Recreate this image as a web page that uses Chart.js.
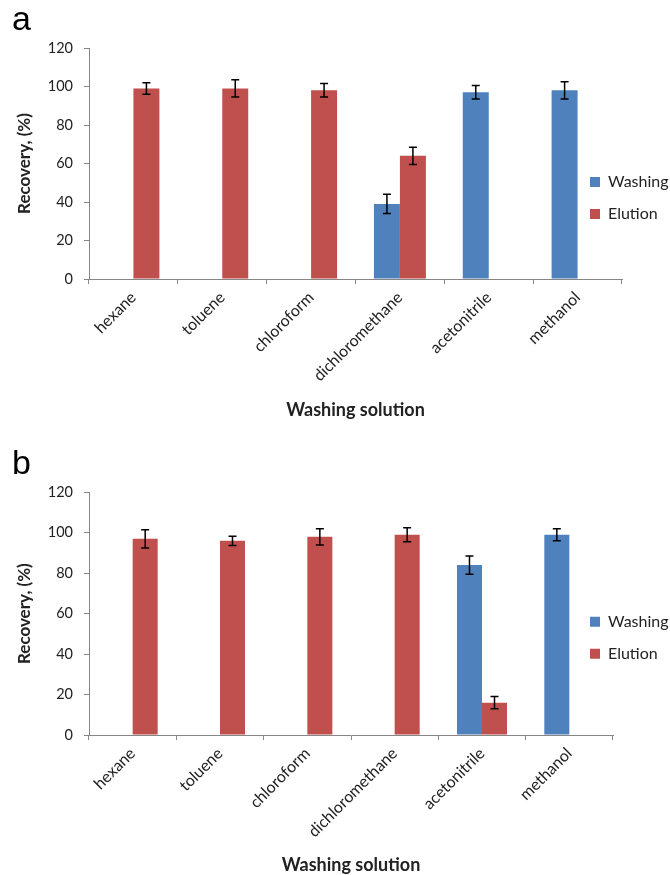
<!DOCTYPE html>
<html><head><meta charset="utf-8">
<script src="https://cdn.jsdelivr.net/npm/chart.js@4.4.1/dist/chart.umd.min.js"></script>
<style>
html,body{margin:0;padding:0;background:#fff;}
body{width:670px;height:875px;position:relative;overflow:hidden;}
.wrap{position:absolute;left:0;width:670px;}
#wa{top:0;height:435px;}
#wb{top:444px;height:431px;}
canvas{display:block;}
</style></head><body>
<div class="wrap" id="wa"><canvas id="ca" width="670" height="435"></canvas></div>
<div class="wrap" id="wb"><canvas id="cb" width="670" height="431"></canvas></div>
<script>
const categories = ['hexane', 'toluene', 'chloroform', 'dichloromethane', 'acetonitrile', 'methanol'];
const seriesNames = ['Washing', 'Elution'];
const yTicks = [0, 20, 40, 60, 80, 100, 120];

// panel a
const aWashing    = [null, null, null, 39, 97, 98];
const aWashingErr = [null, null, null, 5, 3.5, 4.5];
const aElution    = [99, 99, 98, 64, null, null];
const aElutionErr = [3, 4.5, 3.5, 4.5, null, null];

// panel b
const bWashing    = [null, null, null, null, 84, 99];
const bWashingErr = [null, null, null, null, 4.5, 3];
const bElution    = [97, 96, 98, 99, 16, null];
const bElutionErr = [4.5, 2.3, 4, 3.5, 3, null];

const BLUE = '#4F81BD', RED = '#C0504D', AXIS = '#868686', TXT = '#222222';
const FONT = 'Lato';

const errorBarPlugin = {
  id: 'errorBars',
  afterDatasetsDraw(chart) {
    const ctx = chart.ctx, ys = chart.scales.y;
    chart.data.datasets.forEach((ds, di) => {
      const meta = chart.getDatasetMeta(di);
      (ds.errors || []).forEach((e, i) => {
        const v = ds.data[i];
        if (v == null || e == null) return;
        const x = meta.data[i].x;
        const yt = ys.getPixelForValue(v + e), yb = ys.getPixelForValue(v - e);
        ctx.save();
        ctx.strokeStyle = '#000'; ctx.lineWidth = 1.5;
        ctx.beginPath();
        ctx.moveTo(x, yt); ctx.lineTo(x, yb);
        ctx.moveTo(x - 4, yt); ctx.lineTo(x + 4, yt);
        ctx.moveTo(x - 4, yb); ctx.lineTo(x + 4, yb);
        ctx.stroke();
        ctx.restore();
      });
    });
  }
};

const legendPlace = {
  id: 'legendPlace',
  afterLayout(chart, args, opts) {
    const lg = chart.legend;
    if (!lg) return;
    lg.left = opts.x; lg.top = opts.y;
    lg.right = chart.width; lg.bottom = chart.height;
  }
};

function makeChart(id, letter, washing, washingErr, elution, elutionErr, g) {
  return new Chart(document.getElementById(id), {
    type: 'bar',
    data: {
      labels: categories,
      datasets: [
        {label: seriesNames[0], data: washing, errors: washingErr, backgroundColor: BLUE, borderWidth: 0},
        {label: seriesNames[1], data: elution, errors: elutionErr, backgroundColor: RED, borderWidth: 0}
      ]
    },
    options: {
      responsive: false, animation: false,
      layout: {padding: {left: 12, right: g.right, top: 0, bottom: 0}},
      datasets: {bar: {categoryPercentage: g.cp, barPercentage: 1}},
      plugins: {
        title: {display: true, text: letter, align: 'start', color: '#000',
                font: {family: 'Liberation Sans', size: 34, weight: 'normal'},
                padding: {top: 0, bottom: g.titleBottom}},
        legend: {position: 'chartArea', align: 'start',
                 labels: {boxWidth: 10, boxHeight: 10, padding: 16, color: TXT,
                          font: {family: FONT, size: 16}}},
        legendPlace: {x: g.legX, y: g.legY},
        tooltip: {enabled: false}
      },
      scales: {
        x: {
          grid: {offset: true, drawOnChartArea: false, tickLength: 5, color: AXIS},
          border: {color: AXIS, width: 1},
          ticks: {minRotation: 45, maxRotation: 45, autoSkip: false, padding: 4, color: TXT,
                  font: {family: FONT, size: 16}},
          title: {display: true, text: 'Washing solution', color: '#222',
                  font: {family: FONT, size: 18, weight: 'bold', lineHeight: 1},
                  padding: {top: 0, bottom: g.xTitlePad}},
          afterFit(s) { s.height = g.xh; }
        },
        y: {
          min: 0, max: 120,
          afterBuildTicks(s) { s.ticks = yTicks.map(v => ({value: v})); },
          grid: {drawOnChartArea: false, tickLength: 5, color: AXIS},
          border: {color: AXIS, width: 1},
          ticks: {padding: 11, color: TXT, font: {family: FONT, size: 14.5}},
          title: {display: true, text: 'Recovery, (%)', color: '#222',
                  font: {family: FONT, size: 17, weight: 'bold'},
                  padding: {top: 2, bottom: 0}},
          afterFit(s) { s.width = 77; }
        }
      }
    },
    plugins: [errorBarPlugin, legendPlace]
  });
}

makeChart('ca', 'a', aWashing, aWashingErr, aElution, aElutionErr,
  {right: 48, cp: 0.585, titleBottom: 7.2, xh: 156, xTitlePad: 16, legX: 574, legY: 158});
makeChart('cb', 'b', bWashing, bWashingErr, bElution, bElutionErr,
  {right: 57, cp: 0.573, titleBottom: 7.5, xh: 140, xTitlePad: 1, legX: 574, legY: 153.7});
</script>
</body></html>
